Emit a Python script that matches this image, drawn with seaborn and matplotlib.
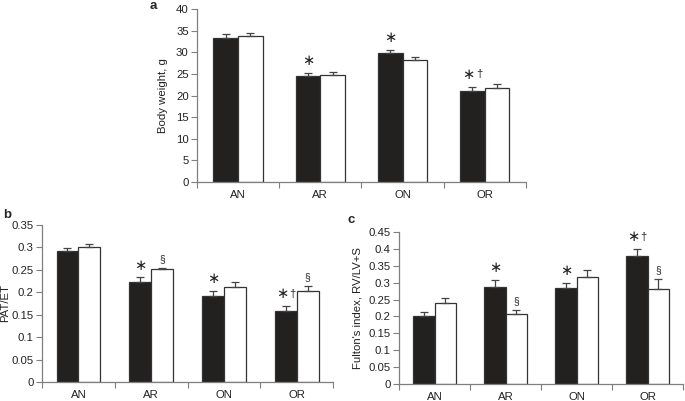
import matplotlib
matplotlib.use('Agg')
import matplotlib.pyplot as plt
import numpy as np
import pandas as pd
import seaborn as sns

groups = ['AN', 'AR', 'ON', 'OR']

# panel a - body weight
bw_black = [33.3, 24.5, 29.8, 21.0]
bw_black_err = [1.0, 0.8, 0.8, 1.0]
bw_white = [33.7, 24.7, 28.2, 21.8]
bw_white_err = [0.8, 0.8, 0.8, 0.8]

# panel b - PAT/ET
pat_black = [0.292, 0.222, 0.192, 0.158]
pat_black_err = [0.006, 0.011, 0.011, 0.012]
pat_white = [0.300, 0.252, 0.212, 0.203]
pat_white_err = [0.007, 0.003, 0.011, 0.011]

# panel c - Fulton's index
ful_black = [0.202, 0.287, 0.283, 0.378]
ful_black_err = [0.010, 0.022, 0.017, 0.022]
ful_white = [0.240, 0.206, 0.318, 0.282]
ful_white_err = [0.014, 0.012, 0.021, 0.030]

sns.set_style('white')
plt.rcParams['font.family'] = ['Liberation Sans', 'DejaVu Sans']
GREY = '#7f7f7f'
FS = 8.2


def draw_panel(ax, black, black_err, white, white_err, ylim, ystep, ylabel,
               fmt, marks, labelpad=4):
    df = pd.DataFrame({'group': groups * 2,
                       'value': black + white,
                       'kind': ['black'] * 4 + ['white'] * 4})
    sns.barplot(data=df, x='group', y='value', hue='kind',
                palette=['#231f20', 'white'], edgecolor='#333333',
                linewidth=0.9, width=0.6, gap=0, errorbar=None,
                legend=False, ax=ax)
    tops = {}
    for cont, err, key in zip(ax.containers, [black_err, white_err],
                              ['black', 'white']):
        xs = [p.get_x() + p.get_width() / 2 for p in cont.patches]
        ys = [p.get_height() for p in cont.patches]
        ax.errorbar(xs, ys, yerr=[np.zeros(4), err], fmt='none',
                    ecolor='#444444', elinewidth=0.9, capsize=3,
                    capthick=0.9)
        tops[key] = (xs, [y + e for y, e in zip(ys, err)])
    span = ylim[1] - ylim[0]
    for key, idx, txt in marks:
        xs, ts = tops[key]
        if txt == '*':
            ax.text(xs[idx], ts[idx] + span * 0.03, '∗', ha='center',
                    va='bottom', fontsize=10.5, color='#222222')
        elif txt == '*†':
            ax.text(xs[idx] - 0.05, ts[idx] + span * 0.03, '∗',
                    ha='center', va='bottom', fontsize=10.5,
                    color='#222222')
            ax.text(xs[idx] + 0.09, ts[idx] + span * 0.045, '†',
                    ha='center', va='bottom', fontsize=8, color='#222222')
        else:
            ax.text(xs[idx], ts[idx] + span * 0.025, '§', ha='center',
                    va='bottom', fontsize=7.5, color='#222222')

    ax.set_xlim(-0.5, 3.5)
    ax.set_ylim(*ylim)
    ticks = np.arange(ylim[0], ylim[1] + ystep / 2, ystep)
    ax.set_yticks(ticks)
    ax.set_yticklabels([fmt(t) for t in ticks])
    ax.set_xticks(range(4))
    ax.set_xticklabels(groups)
    ax.set_xticks(np.arange(-0.5, 4, 1), minor=True)
    ax.tick_params(axis='x', which='major', length=0, labelsize=FS,
                   pad=6, colors='#222222')
    ax.tick_params(axis='x', which='minor', length=4, width=0.8,
                   color=GREY, direction='out', bottom=True)
    ax.tick_params(axis='y', length=4, width=0.8, color=GREY,
                   direction='out', left=True, labelsize=FS,
                   labelcolor='#222222', pad=2)
    for s in ['top', 'right']:
        ax.spines[s].set_visible(False)
    for s in ['left', 'bottom']:
        ax.spines[s].set_color(GREY)
        ax.spines[s].set_linewidth(0.9)
    ax.set_xlabel('')
    ax.set_ylabel(ylabel, fontsize=FS, color='#222222', labelpad=labelpad)


def fmt_int(t):
    return '%d' % round(t)


def fmt_dec(t):
    s = ('%.2f' % t).rstrip('0').rstrip('.')
    return s if s else '0'


fig = plt.figure(figsize=(6.85, 4.01), dpi=100)
ax_a = fig.add_axes([0.2876, 0.546, 0.480, 0.431])
ax_b = fig.add_axes([0.0613, 0.0474, 0.425, 0.3915])
ax_c = fig.add_axes([0.5825, 0.0424, 0.4146, 0.379])

draw_panel(ax_a, bw_black, bw_black_err, bw_white, bw_white_err,
           (0, 40), 5, 'Body weight, g', fmt_int,
           [('black', 1, '*'), ('black', 2, '*'), ('black', 3, '*†')],
           labelpad=6)
draw_panel(ax_b, pat_black, pat_black_err, pat_white, pat_white_err,
           (0, 0.35), 0.05, 'PAT/ET', fmt_dec,
           [('black', 1, '*'), ('white', 1, '§'), ('black', 2, '*'),
            ('black', 3, '*†'), ('white', 3, '§')], labelpad=1)
draw_panel(ax_c, ful_black, ful_black_err, ful_white, ful_white_err,
           (0, 0.45), 0.05, "Fulton's index, RV/LV+S", fmt_dec,
           [('black', 1, '*'), ('white', 1, '§'), ('black', 2, '*'),
            ('black', 3, '*†'), ('white', 3, '§')], labelpad=4)

fig.text(150 / 685, 1 - 6 / 401, 'a', fontsize=9.5, fontweight='bold',
         va='center', ha='left')
fig.text(3 / 685, 1 - 215 / 401, 'b', fontsize=9.5, fontweight='bold',
         va='center', ha='left')
fig.text(348 / 685, 1 - 220 / 401, 'c', fontsize=9.5, fontweight='bold',
         va='center', ha='left')

fig.savefig('out.png', dpi=100)
